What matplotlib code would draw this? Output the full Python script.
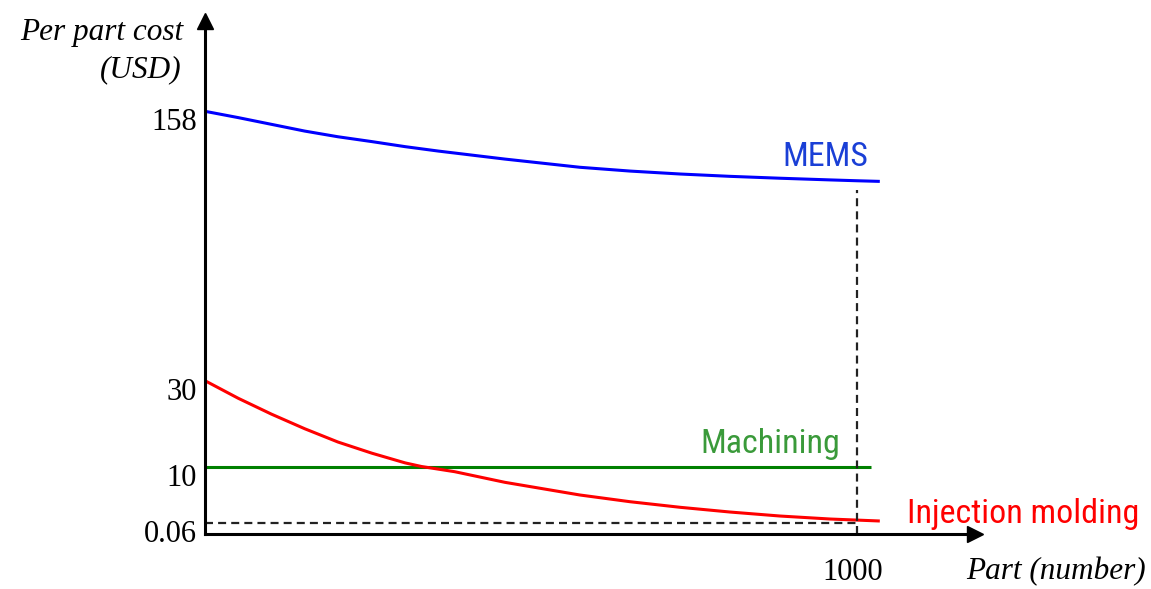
import numpy as np
import matplotlib
matplotlib.use("Agg")
import matplotlib.pyplot as plt
from matplotlib.transforms import ScaledTranslation
from matplotlib import font_manager

# ---------------- data (read from the schematic) ----------------
mems_x = [0, 51, 102, 153, 204, 256, 307, 358, 409, 460, 575, 652, 729, 805, 882, 959, 1000, 1035]
mems_y = [158, 155.0, 151.8, 148.6, 145.9, 143.6, 141.2, 139.1, 137.2, 135.3,
          131.4, 129.6, 128.2, 127.1, 126.2, 125.4, 125.0, 124.7]

inj_x = [0, 51, 102, 153, 204, 256, 307, 332, 383, 460, 575, 652, 729, 805, 882, 959, 1035]
inj_y = [30, 25.9, 22.2, 18.8, 15.7, 13.1, 10.84, 10, 9.08, 7.2, 4.96, 3.77, 2.78,
         1.95, 1.24, 0.71, 0.36]

mach_x = [0, 1021]
mach_y = [10, 10]

ytick_vals = [0.06, 10, 30, 158]
ytick_labels = ["0.06", "10", "30", "158"]
xtick_vals = [1000]
xtick_labels = ["1000"]

ref_part = 1000        # vertical dashed reference
ref_cost = 0.06        # horizontal dashed reference
ref_top = 120.6        # top of the vertical dashed line

# ---------------- schematic (piecewise) y scale ----------------
VK = np.array([0, 0.06, 10, 30, 158, 300])
HK = np.array([0, 10.8, 67.0, 152.8, 422.2, 721.1])

def fwd(v):
    return np.interp(v, VK, HK)

def inv(h):
    return np.interp(h, HK, VK)

W, H = 1151, 589
fig = plt.figure(figsize=(W / 100, H / 100), dpi=100)

left, right, bottom, top = 205, 975, 533.5, 20.5
ax = fig.add_axes([left / W, (H - bottom) / H, (right - left) / W, (bottom - top) / H])
ax.set_yscale("function", functions=(fwd, inv))
ax.set_xlim(0, 1181)
ax.set_ylim(0, inv(bottom - top))

lw = 2.2
ax.plot(mems_x, mems_y, color="#0000ff", lw=lw, solid_capstyle="butt", solid_joinstyle="round")
ax.plot(mach_x, mach_y, color="#008000", lw=lw, solid_capstyle="butt")
ax.plot(inj_x, inj_y, color="#ff0000", lw=lw, solid_capstyle="butt", solid_joinstyle="round")

dash = dict(color="#222222", lw=1.6, dashes=(3.6, 2.3))
ax.plot([0, ref_part], [ref_cost, ref_cost], **dash)
ax.plot([ref_part, ref_part], [0, ref_top], **dash)

# spines + arrows
for s in ["top", "right"]:
    ax.spines[s].set_visible(False)
for s in ["left", "bottom"]:
    ax.spines[s].set_linewidth(2.2)
    ax.spines[s].set_color("black")
ax.plot(1, 0, ">", color="black", ms=11, transform=ax.transAxes, clip_on=False)
ax.plot(0, 1, "^", color="black", ms=11, transform=ax.transAxes, clip_on=False)

serif = ["Liberation Serif", "DejaVu Serif"]
ax.set_yticks(ytick_vals)
ax.set_yticklabels(ytick_labels, fontfamily=serif, fontsize=22)
ax.set_xticks(xtick_vals)
ax.set_xticklabels(xtick_labels, fontfamily=serif, fontsize=22)
ax.yaxis.set_minor_locator(matplotlib.ticker.NullLocator())
ax.tick_params(axis="y", length=0, pad=6)
ax.tick_params(axis="x", length=0, pad=18)
for lab in ax.get_yticklabels():
    lab.set_transform(lab.get_transform() + ScaledTranslation(0, -0.08, fig.dpi_scale_trans))
for lab in ax.get_xticklabels():
    lab.set_transform(lab.get_transform() + ScaledTranslation(-0.04, 0, fig.dpi_scale_trans))

def P(x, y):
    return x / W, 1 - y / H

# pick a narrow sans if one is installed, otherwise Liberation Sans, smaller
names = {f.name for f in font_manager.fontManager.ttflist}
narrow_name = None
for cand in ["Liberation Sans Narrow", "Arial Narrow", "Roboto Condensed",
             "Open Sans Condensed", "DejaVu Sans Condensed", "Noto Sans Condensed"]:
    if cand in names:
        narrow_name = cand
        break
if narrow_name:
    sans = [narrow_name, "Liberation Sans"]
    sfs = 24.5
    b_mems, b_mach, b_inj = 166.5, 452.5, 522.5
else:
    sans = ["Liberation Sans", "DejaVu Sans"]
    sfs = 22
    b_mems, b_mach, b_inj = 165.5, 451, 521.5

fig.text(*P(782, b_mems), "MEMS", color="#1a3fd6", fontsize=sfs, family=sans, va="baseline", ha="left")
fig.text(*P(700, b_mach), "Machining", color="#3a9a3a", fontsize=sfs, family=sans, va="baseline", ha="left")
fig.text(*P(907, b_inj), "Injection molding", color="#ff0000", fontsize=sfs, family=sans, va="baseline", ha="left")

fig.text(*P(183, 40), "Per part cost", fontsize=22.5, family=serif, style="italic", va="baseline", ha="right")
fig.text(*P(182, 77), "(USD)", fontsize=22.5, family=serif, style="italic", va="baseline", ha="right")
fig.text(*P(966, 579), "Part (number)", fontsize=22.5, family=serif, style="italic", va="baseline", ha="left")

fig.savefig("out.png", dpi=100, facecolor="white")
